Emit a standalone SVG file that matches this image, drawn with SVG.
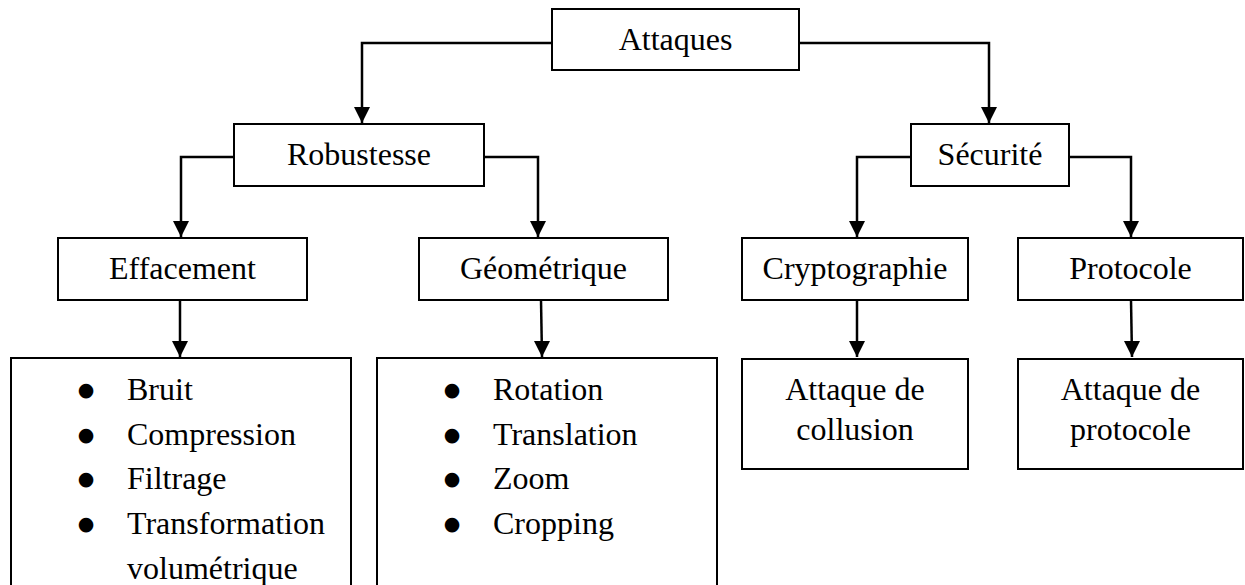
<svg xmlns="http://www.w3.org/2000/svg" width="1245" height="585" viewBox="0 0 1245 585">
  <style>
    .box { fill: #ffffff; stroke: #000000; stroke-width: 2; }
    .lbl { font-family: 'Liberation Serif', 'Times New Roman', serif; font-size: 32px; fill: #000000; }
    .mid { text-anchor: middle; }
    .bul { font-family: 'DejaVu Sans', sans-serif; font-size: 19px; fill: #000000; text-anchor: middle; }
    .wire { fill: none; stroke: #000000; stroke-width: 2.5; marker-end: url(#head); }
  </style>
  <defs>
    <marker id="head" markerUnits="userSpaceOnUse" markerWidth="16" markerHeight="16" viewBox="0 0 16 16" refX="8" refY="16" orient="0">
      <path d="M0,0 L16,0 L8,16 Z" fill="#000000"/>
    </marker>
  </defs>
  <rect width="1245" height="585" fill="#ffffff"/>

  <!-- connectors -->
  <g id="connectors">
    <path class="wire" d="M552,43 H362 V123"/>
    <path class="wire" d="M799,43 H989 V123"/>
    <path class="wire" d="M234,157 H181 V237"/>
    <path class="wire" d="M484,157 H538 V237"/>
    <path class="wire" d="M911,157 H857 V237"/>
    <path class="wire" d="M1069,157 H1131 V237"/>
    <path class="wire" d="M180,300 V357"/>
    <path class="wire" d="M541,300 L542,357"/>
    <path class="wire" d="M857,300 V357"/>
    <path class="wire" d="M1131,300 L1132,357"/>
  </g>

  <g id="attaques">
    <rect class="box" x="552" y="9" width="247" height="61"/>
    <text class="lbl mid" x="675.5" y="50">Attaques</text>
  </g>

  <g id="robustesse">
    <rect class="box" x="234" y="124" width="250" height="62"/>
    <text class="lbl mid" x="359" y="165">Robustesse</text>
  </g>

  <g id="securite">
    <rect class="box" x="911" y="124" width="158" height="62"/>
    <text class="lbl mid" x="990" y="165">Sécurité</text>
  </g>

  <g id="effacement">
    <rect class="box" x="58" y="238" width="249" height="62"/>
    <text class="lbl mid" x="182.5" y="279">Effacement</text>
  </g>

  <g id="geometrique">
    <rect class="box" x="419" y="238" width="249" height="62"/>
    <text class="lbl mid" x="543.5" y="279">Géométrique</text>
  </g>

  <g id="cryptographie">
    <rect class="box" x="742" y="238" width="226" height="62"/>
    <text class="lbl mid" x="855" y="279">Cryptographie</text>
  </g>

  <g id="protocole">
    <rect class="box" x="1018" y="238" width="225" height="62"/>
    <text class="lbl mid" x="1130.5" y="279">Protocole</text>
  </g>

  <g id="effacement-liste">
    <rect class="box" x="11" y="358" width="340" height="250"/>
    <text class="bul" x="86" y="396">●</text>
    <text class="bul" x="86" y="441">●</text>
    <text class="bul" x="86" y="485">●</text>
    <text class="bul" x="86" y="530">●</text>
    <text class="lbl" x="127" y="400">Bruit</text>
    <text class="lbl" x="127" y="445">Compression</text>
    <text class="lbl" x="127" y="489">Filtrage</text>
    <text class="lbl" x="127" y="534">Transformation</text>
    <text class="lbl" x="127" y="579">volumétrique</text>
  </g>

  <g id="geometrique-liste">
    <rect class="box" x="377" y="358" width="340" height="250"/>
    <text class="bul" x="452" y="396">●</text>
    <text class="bul" x="452" y="441">●</text>
    <text class="bul" x="452" y="485">●</text>
    <text class="bul" x="452" y="530">●</text>
    <text class="lbl" x="493" y="400">Rotation</text>
    <text class="lbl" x="493" y="445">Translation</text>
    <text class="lbl" x="493" y="489">Zoom</text>
    <text class="lbl" x="493" y="534">Cropping</text>
  </g>

  <g id="collusion">
    <rect class="box" x="742" y="359" width="226" height="110"/>
    <text class="lbl mid" x="855" y="400">Attaque de</text>
    <text class="lbl mid" x="855" y="440">collusion</text>
  </g>

  <g id="attaque-protocole">
    <rect class="box" x="1018" y="359" width="225" height="110"/>
    <text class="lbl mid" x="1130.5" y="400">Attaque de</text>
    <text class="lbl mid" x="1130.5" y="440">protocole</text>
  </g>
</svg>
